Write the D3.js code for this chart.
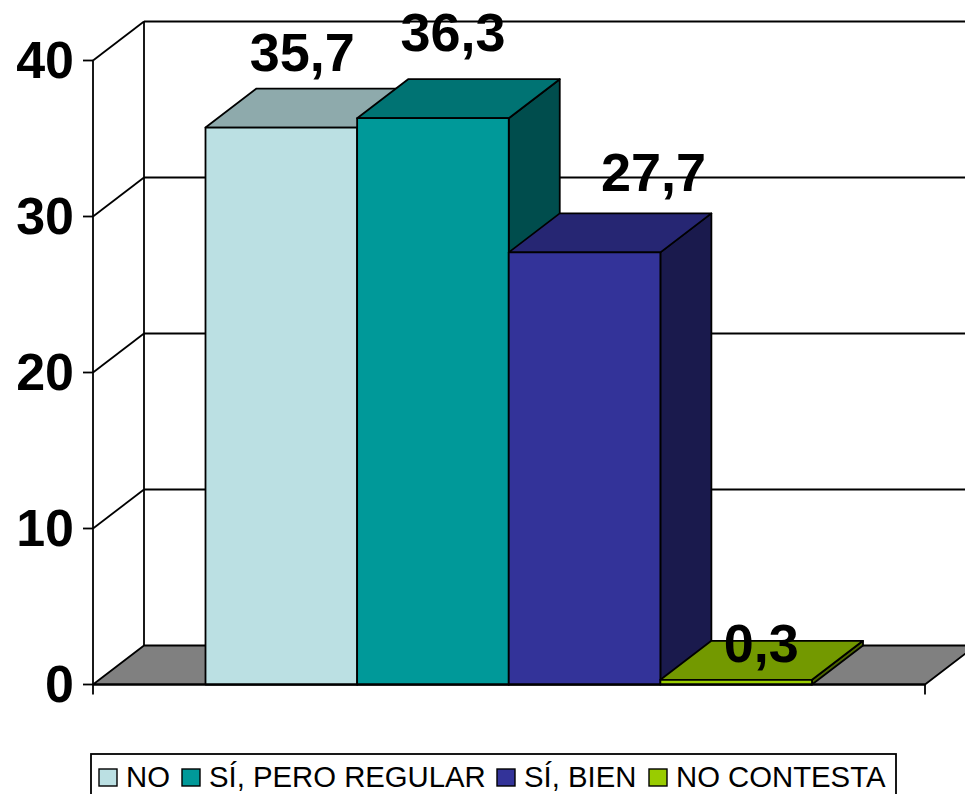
<!DOCTYPE html>
<html>
<head>
<meta charset="utf-8">
<script src="https://cdn.jsdelivr.net/npm/d3@7"></script>
<style>
  html, body { margin: 0; padding: 0; background: #fff; overflow: hidden; }
  text { font-family: "Liberation Sans", Arial, sans-serif; fill: #000; }
</style>
</head>
<body>
<div id="chart"></div>
<script>
var seriesNames = ['NO', 'SÍ, PERO REGULAR', 'SÍ, BIEN', 'NO CONTESTA'];
var seriesValues = [35.7, 36.3, 27.7, 0.3];
var valueLabels = ['35,7', '36,3', '27,7', '0,3'];
var yTicks = [0, 10, 20, 30, 40];
var frontColors = ['#BBE0E3', '#009999', '#333399', '#99CC00'];
var topColors = ['#8EAAAC', '#007373', '#262673', '#739900'];
var sideColors = ['#5E7071', '#004D4D', '#1A1A4D', '#4D6600'];

// label nudges, the original chart placed these by hand
var labelDx = [21, 20, 69, 25];
var labelBase = [71, 51, 191, 662];

var width = 965, height = 794;
var depthX = 51, depthY = -39;
var left = 93, right = 925;

var svg = d3.select('#chart').append('svg')
  .attr('width', width)
  .attr('height', height)
  .style('display', 'block');

var y = d3.scaleLinear().domain([0, 40]).range([684.5, 60.5]);
var x = d3.scaleBand().domain(seriesNames).range([205.5, 812]);

function poly(points, fill, sw) {
  svg.append('polygon')
    .attr('points', points.map(function (p) { return p.join(','); }).join(' '))
    .attr('fill', fill)
    .attr('stroke', '#000')
    .attr('stroke-width', sw || 1.8)
    .attr('stroke-linejoin', 'round');
}

function line(x1, y1, x2, y2, sw) {
  svg.append('line')
    .attr('x1', x1).attr('y1', y1)
    .attr('x2', x2).attr('y2', y2)
    .attr('stroke', '#000')
    .attr('stroke-width', sw || 1.8);
}

// floor
poly([[left, y(0)], [left + depthX, y(0) + depthY], [right + depthX, y(0) + depthY], [right, y(0)]], '#808080');

// walls and grid
yTicks.forEach(function (t) {
  if (t > 0) {
    line(left, y(t), left + depthX, y(t) + depthY);
    line(left + depthX, y(t) + depthY, width, y(t) + depthY);
  }
  line(left - 10, y(t), left, y(t));
});
line(left, y(40), left, y(0) + 10);
line(left + depthX, y(40) + depthY, left + depthX, y(0) + depthY);
line(right, y(0), right, y(0) + 10);

// bars, left to right so each one covers the side of the previous
seriesNames.forEach(function (name, i) {
  var x0 = x(name), x1 = x0 + x.bandwidth();
  var yt = y(seriesValues[i]), yb = y(0);
  poly([[x1, yb], [x1 + depthX, yb + depthY], [x1 + depthX, yt + depthY], [x1, yt]], sideColors[i]);
  poly([[x0, yt], [x0 + depthX, yt + depthY], [x1 + depthX, yt + depthY], [x1, yt]], topColors[i]);
  poly([[x0, yb], [x0, yt], [x1, yt], [x1, yb]], frontColors[i]);
});

line(left, y(0), right, y(0));

// y axis labels
svg.selectAll('.ylab').data(yTicks).enter().append('text')
  .attr('class', 'ylab')
  .attr('x', 74)
  .attr('y', function (d) { return y(d) + 17.5; })
  .attr('text-anchor', 'end')
  .attr('font-size', 52)
  .attr('font-weight', 'bold')
  .text(function (d) { return d; });

// value labels
svg.selectAll('.vlab').data(seriesNames).enter().append('text')
  .attr('class', 'vlab')
  .attr('x', function (d, i) { return x(d) + x.bandwidth() / 2 + labelDx[i]; })
  .attr('y', function (d, i) { return labelBase[i]; })
  .attr('text-anchor', 'middle')
  .attr('font-size', 54)
  .attr('font-weight', 'bold')
  .text(function (d, i) { return valueLabels[i]; });

// legend
svg.append('rect')
  .attr('x', 91).attr('y', 754)
  .attr('width', 805).attr('height', 60)
  .attr('fill', '#fff')
  .attr('stroke', '#000')
  .attr('stroke-width', 1.8);

var legendSwatchX = [99, 182, 497, 649];
seriesNames.forEach(function (name, i) {
  svg.append('rect')
    .attr('x', legendSwatchX[i]).attr('y', 769)
    .attr('width', 18).attr('height', 17)
    .attr('fill', frontColors[i])
    .attr('stroke', '#000')
    .attr('stroke-width', 1.4);
  svg.append('text')
    .attr('x', legendSwatchX[i] + 27)
    .attr('y', 787)
    .attr('font-size', 29.3)
    .text(name);
});
</script>
</body>
</html>
